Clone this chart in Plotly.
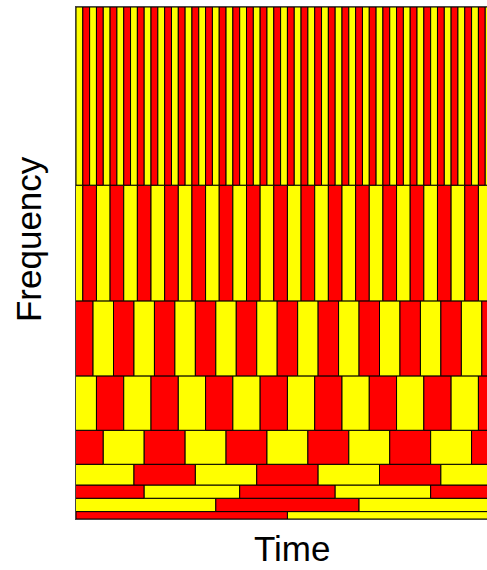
import plotly.graph_objects as go

# Frequency bands (bottom to top), in normalized frequency units (axis 0..100)
band_low = [0.0, 1.45, 4.05, 6.64, 10.69, 17.33, 27.95, 42.6, 65.2]
band_high = [1.45, 4.05, 6.64, 10.69, 17.33, 27.95, 42.6, 65.2, 100.0]
# Time resolution of each band (cell duration) and first cell start time
cell_width = [31, 21, 14, 9, 6, 4, 3, 2, 1]
first_start = [0.0, -0.5, -4.0, -0.5, -2.0, -1.0, -0.5, -1.0, 0.0]
first_color = ["red", "yellow", "red", "yellow", "red", "yellow", "red", "yellow", "yellow"]

T_MAX = 60.26
F_MAX = 100.0
COLORS = {"red": "#FF0000", "yellow": "#FFFF00"}
other = {"red": "yellow", "yellow": "red"}

fig = go.Figure()
for lo, hi, w, s, c0 in zip(band_low, band_high, cell_width, first_start, first_color):
    starts, durs, cols = [], [], []
    t = s
    c = c0
    while t < T_MAX:
        starts.append(t)
        durs.append(w)
        cols.append(COLORS[c])
        c = other[c]
        t += w
    fig.add_trace(go.Bar(
        orientation="h",
        y=[(lo + hi) / 2] * len(starts),
        x=durs,
        base=starts,
        width=[hi - lo] * len(starts),
        marker=dict(color=cols, line=dict(color="black", width=1)),
        showlegend=False,
        hoverinfo="skip",
    ))

fig.update_layout(
    width=487, height=570,
    margin=dict(l=76, r=0, t=7, b=51),
    paper_bgcolor="white", plot_bgcolor="white",
    barmode="overlay",
    xaxis=dict(range=[0, T_MAX], showgrid=False, zeroline=False, showticklabels=False,
               ticks="", showline=True, linecolor="#444", linewidth=1, mirror=True),
    yaxis=dict(range=[0, F_MAX], showgrid=False, zeroline=False, showticklabels=False,
               ticks="", showline=True, linecolor="#444", linewidth=1),
    annotations=[
        dict(text="Time", xref="paper", yref="paper", x=0.5255, y=-0.057,
             xanchor="center", yanchor="middle", showarrow=False,
             font=dict(family="Liberation Sans, Arial", size=35, color="black")),
        dict(text="Frequency", xref="paper", yref="paper", x=-0.117, y=0.5466,
             xanchor="center", yanchor="middle", textangle=-90, showarrow=False,
             font=dict(family="Liberation Sans, Arial", size=35, color="black")),
    ],
)

fig.write_html("out.html")
